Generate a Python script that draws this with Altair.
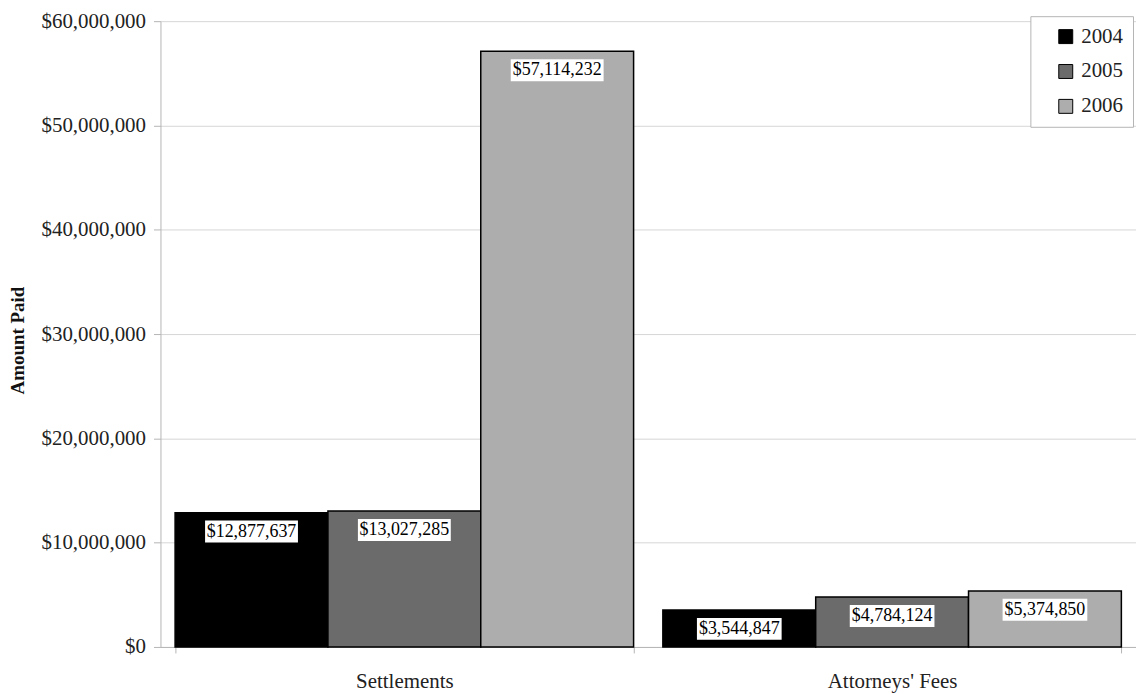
import altair as alt
import pandas as pd

categories = ["Settlements", "Attorneys' Fees"]
years = ["2004", "2005", "2006"]
settlements = [12877637, 13027285, 57114232]
attorneys_fees = [3544847, 4784124, 5374850]
y_ticks = [0, 10000000, 20000000, 30000000, 40000000, 50000000, 60000000]
colors = ["#000000", "#6b6b6b", "#adadad"]

rows = []
for cat, vals in zip(categories, [settlements, attorneys_fees]):
    for yr, v in zip(years, vals):
        rows.append({"category": cat, "year": yr, "amount": v, "label": "${:,}".format(v)})
df = pd.DataFrame(rows)

SERIF = "Liberation Serif"

x_enc = alt.X(
    "category:N",
    sort=categories,
    scale=alt.Scale(paddingInner=0.06, paddingOuter=0.03),
    axis=alt.Axis(
        title=None, tickBand="extent", labelAngle=0, labelFont=SERIF,
        labelFontSize=21, labelColor="#222222", labelPadding=18,
        domainColor="#b5b5b5", tickColor="#b5b5b5", tickSize=6, grid=False,
    ),
)
xo_enc = alt.XOffset("year:N", sort=years, scale=alt.Scale(paddingInner=0, paddingOuter=0))
y_enc = alt.Y(
    "amount:Q",
    scale=alt.Scale(domain=[0, 60000000], nice=False),
    axis=alt.Axis(
        title="Amount Paid", values=y_ticks,
        labelExpr="'$' + format(datum.value, ',')",
        labelFont=SERIF, labelFontSize=21, labelColor="#222222", labelPadding=8,
        tickColor="#b5b5b5", tickSize=7, domainColor="#b5b5b5",
        gridColor="#d6d6d6", grid=True,
        titleFont=SERIF, titleFontSize=19, titleFontWeight="bold", titleColor="#111111",
        titleAngle=-90, titleX=-133, titleY=320, titleBaseline="bottom", titleAlign="center",
    ),
)

base = alt.Chart(df)

bars = base.mark_bar(stroke="black", strokeWidth=1.5).encode(
    x=x_enc,
    xOffset=xo_enc,
    y=y_enc,
    color=alt.Color(
        "year:N", sort=years,
        scale=alt.Scale(domain=years, range=colors),
        legend=alt.Legend(
            title=None, orient="none", legendX=873, legendY=-5,
            symbolType="square", symbolSize=196, symbolStrokeColor="black",
            symbolStrokeWidth=1, symbolOffset=15, labelFont=SERIF, labelFontSize=21,
            labelColor="#222222", labelOffset=5, rowPadding=13,
            padding=10, strokeColor="#b5b5b5", fillColor="white",
        ),
    ),
)

boxes = base.transform_calculate(
    boxw="length(datum.label) * 8.2 + 3"
).mark_bar(color="white", yOffset=8, y2Offset=30).encode(
    x=alt.X("category:N", sort=categories),
    xOffset=alt.XOffset("year:N", sort=years),
    y=alt.Y("amount:Q"),
    y2=alt.Y2("amount:Q"),
    size=alt.Size("boxw:Q", scale=None, legend=None),
)

labels = base.mark_text(
    font=SERIF, fontSize=18, dy=19, baseline="middle", align="center", color="black"
).encode(
    x=alt.X("category:N", sort=categories),
    xOffset=alt.XOffset("year:N", sort=years),
    y=alt.Y("amount:Q"),
    text="label:N",
)

chart = alt.layer(bars, boxes, labels).properties(
    width=979,
    height=628,
    autosize=alt.AutoSizeParams(type="none"),
    padding={"left": 153, "top": 12, "right": 0, "bottom": 46},
    background="white",
).configure_view(stroke=None)

chart.save("out.html", embed_options={"renderer": "svg", "actions": False})
